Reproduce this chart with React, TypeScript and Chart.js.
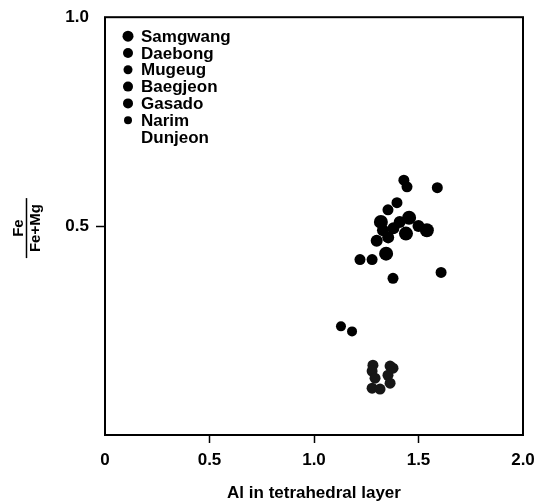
import React, { useEffect, useRef } from "react";
import { Chart, registerables } from "chart.js";

Chart.register(...registerables);

// ---- data ----
const seriesNames = ["Samgwang", "Daebong", "Mugeug", "Baegjeon", "Gasado", "Narim", "Dunjeon"];

const samgwangX = [1.32, 1.455, 1.44, 1.54, 1.345];
const samgwangY = [0.51, 0.52, 0.482, 0.49, 0.434];

const daebongX = [1.355, 1.30, 1.33, 1.38, 1.41, 1.50];
const daebongY = [0.473, 0.465, 0.49, 0.495, 0.51, 0.50];

const mugeugX = [1.43, 1.445, 1.59];
const mugeugY = [0.61, 0.594, 0.592];

const baegjeonX = [1.397, 1.354];
const baegjeonY = [0.556, 0.539];

const gasadoX = [1.378, 1.608, 1.22, 1.278];
const gasadoY = [0.375, 0.389, 0.42, 0.42];

const narimX = [1.129, 1.182];
const narimY = [0.26, 0.248];

const dunjeonX = [1.282, 1.278, 1.292, 1.278, 1.316, 1.364, 1.378, 1.354, 1.364];
const dunjeonY = [0.167, 0.153, 0.136, 0.112, 0.11, 0.165, 0.16, 0.143, 0.124];

const xTickValues = [0, 0.5, 1.0, 1.5, 2.0];
const yTickValues = [0.5, 1.0];

const xTitle = "Al in tetrahedral layer";
const yTitleTop = "Fe";
const yTitleBottom = "Fe+Mg";

const FONT = '"Liberation Sans", Arial, sans-serif';
const FSIZE = 17;

function pts(xs: number[], ys: number[]) {
  return xs.map((x, i) => ({ x, y: ys[i] }));
}

const seriesData = [
  pts(samgwangX, samgwangY),
  pts(daebongX, daebongY),
  pts(mugeugX, mugeugY),
  pts(baegjeonX, baegjeonY),
  pts(gasadoX, gasadoY),
  pts(narimX, narimY),
  pts(dunjeonX, dunjeonY),
];
const seriesRadius = [7, 6, 5.5, 5.5, 5.5, 5, 5.5];
const seriesColor = ["#000", "#000", "#000", "#000", "#000", "#000", "#161616"];
const legendRadius = [5.5, 5, 4.5, 5, 5, 4, 0];

const framePlugin = {
  id: "frameAndTitles",
  afterDraw(chart: any) {
    const { ctx, chartArea } = chart;
    const { left, top, right, bottom } = chartArea;
    ctx.save();
    // frame
    ctx.strokeStyle = "#000";
    ctx.lineWidth = 2;
    ctx.strokeRect(left, top, right - left, bottom - top);

    // legend
    ctx.fillStyle = "#000";
    ctx.font = `bold ${FSIZE}px ${FONT}`;
    ctx.textBaseline = "middle";
    ctx.textAlign = "left";
    seriesNames.forEach((name, i) => {
      const y = top + 19 + i * 16.8;
      const r = legendRadius[i];
      if (r > 0) {
        ctx.beginPath();
        ctx.arc(left + 23, y, r, 0, Math.PI * 2);
        ctx.fill();
      }
      ctx.fillText(name, left + 36, y + 1);
    });

    // y title as a fraction
    const cy = (top + bottom) / 2 + 2;
    ctx.translate(0, cy);
    ctx.rotate(-Math.PI / 2);
    ctx.textAlign = "center";
    ctx.textBaseline = "alphabetic";
    ctx.font = `bold 15px ${FONT}`;
    ctx.fillText(yTitleTop, 0, 23);
    ctx.fillText(yTitleBottom, 0, 40);
    ctx.lineWidth = 1.5;
    ctx.beginPath();
    ctx.moveTo(-30, 26.5);
    ctx.lineTo(30, 26.5);
    ctx.stroke();
    ctx.restore();
  },
};

export default function App() {
  const ref = useRef<HTMLCanvasElement | null>(null);
  useEffect(() => {
    if (!ref.current) return;
    const chart = new Chart(ref.current, {
      type: "scatter",
      data: {
        datasets: seriesNames.map((name, i) => ({
          label: name,
          data: seriesData[i],
          pointRadius: seriesRadius[i],
          pointHoverRadius: seriesRadius[i],
          backgroundColor: seriesColor[i],
          borderColor: seriesColor[i],
          borderWidth: 0,
          pointStyle: "circle",
        })),
      },
      options: {
        animation: false,
        responsive: false,
        devicePixelRatio: 1,
        layout: { padding: { top: 16, right: 24, left: 0, bottom: 0 } },
        plugins: {
          legend: { display: false },
          tooltip: { enabled: false },
        },
        scales: {
          x: {
            type: "linear",
            min: 0,
            max: 2,
            afterBuildTicks: (scale: any) => {
              scale.ticks = xTickValues.map((v) => ({ value: v }));
            },
            afterFit: (scale: any) => {
              scale.height = 67;
            },
            ticks: {
              color: "#000",
              font: { family: FONT, size: FSIZE, weight: "bold" },
              padding: 7,
              maxRotation: 0,
              autoSkip: false,
              callback: (v: any) => (Number(v) === 0 ? "0" : Number(v).toFixed(1)),
            },
            grid: {
              display: true,
              drawOnChartArea: false,
              drawTicks: true,
              tickLength: 8,
              tickWidth: 1.5,
              tickColor: (c: any) =>
                c.tick && (c.tick.value === 0 || c.tick.value === 2) ? "rgba(0,0,0,0)" : "#000",
            },
            border: { display: false },
            title: {
              display: true,
              text: xTitle,
              color: "#000",
              font: { family: FONT, size: FSIZE, weight: "bold" },
              padding: { top: 0, bottom: -2 },
            },
          },
          y: {
            type: "linear",
            min: 0,
            max: 1,
            afterBuildTicks: (scale: any) => {
              scale.ticks = yTickValues.map((v) => ({ value: v }));
            },
            afterFit: (scale: any) => {
              scale.width = 105;
            },
            ticks: {
              color: "#000",
              font: { family: FONT, size: FSIZE, weight: "bold" },
              padding: 7,
              autoSkip: false,
              callback: (v: any) => Number(v).toFixed(1),
            },
            grid: {
              display: true,
              drawOnChartArea: false,
              drawTicks: true,
              tickLength: 9,
              tickWidth: 1.5,
              tickColor: (c: any) =>
                c.tick && c.tick.value === 0.5 ? "#000" : "rgba(0,0,0,0)",
            },
            border: { display: false },
          },
        },
      },
      plugins: [framePlugin],
    });
    return () => chart.destroy();
  }, []);

  return (
    <div style={{ position: "absolute", left: 0, top: 0, width: 547, height: 502, background: "#fff" }}>
      <canvas ref={ref} width={547} height={502} style={{ display: "block" }} />
    </div>
  );
}
